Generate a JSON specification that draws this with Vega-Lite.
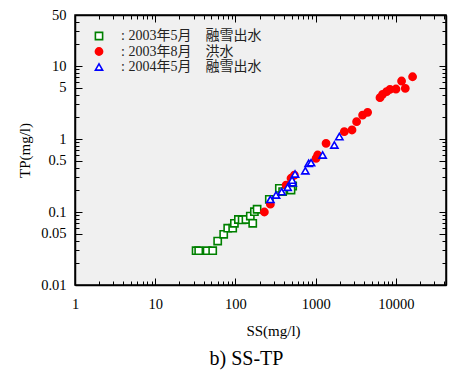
{
  "$schema": "https://vega.github.io/schema/vega-lite/v6.json",
  "width": 371,
  "height": 270,
  "autosize": "none",
  "padding": {"left": 75, "top": 15, "right": 3, "bottom": 85},
  "background": "white",
  "config": {
    "font": "Liberation Serif, Noto Sans CJK JP",
    "view": {"fill": "#f0f0f0", "stroke": "black", "strokeWidth": 1.5},
    "axis": {"domainColor": "black", "domainWidth": 1.5, "ticks": true, "tickColor": "black", "tickOpacity": 1, "tickWidth": 1, "labelColor": "black", "titleColor": "black", "labelFont": "Liberation Serif", "titleFont": "Liberation Serif", "titleFontWeight": "normal", "grid": false, "labelOverlap": false, "labelBound": false, "labelFlush": false}
  },
  "title": {"text": "b) SS-TP", "orient": "bottom", "fontSize": 20, "font": "Liberation Serif", "fontWeight": "normal", "color": "black", "offset": 10, "dx": -14},
  "datasets": {
    "pts": [
      {"series": "2003年5月　融雪出水", "SS": 32.3, "TP": 0.0295},
      {"series": "2003年5月　融雪出水", "SS": 34.8, "TP": 0.0295},
      {"series": "2003年5月　融雪出水", "SS": 44.3, "TP": 0.0295},
      {"series": "2003年5月　融雪出水", "SS": 52, "TP": 0.0295},
      {"series": "2003年5月　融雪出水", "SS": 60, "TP": 0.040},
      {"series": "2003年5月　融雪出水", "SS": 71.3, "TP": 0.0495},
      {"series": "2003年5月　融雪出水", "SS": 80, "TP": 0.060},
      {"series": "2003年5月　融雪出水", "SS": 92.3, "TP": 0.060},
      {"series": "2003年5月　融雪出水", "SS": 96.9, "TP": 0.070},
      {"series": "2003年5月　融雪出水", "SS": 108.7, "TP": 0.079},
      {"series": "2003年5月　融雪出水", "SS": 121, "TP": 0.078},
      {"series": "2003年5月　融雪出水", "SS": 135, "TP": 0.079},
      {"series": "2003年5月　融雪出水", "SS": 153, "TP": 0.088},
      {"series": "2003年5月　融雪出水", "SS": 164, "TP": 0.070},
      {"series": "2003年5月　融雪出水", "SS": 172, "TP": 0.101},
      {"series": "2003年5月　融雪出水", "SS": 186, "TP": 0.109},
      {"series": "2003年5月　融雪出水", "SS": 264, "TP": 0.149},
      {"series": "2003年5月　融雪出水", "SS": 352, "TP": 0.211},
      {"series": "2003年5月　融雪出水", "SS": 387, "TP": 0.190},
      {"series": "2003年5月　融雪出水", "SS": 516, "TP": 0.227},
      {"series": "2003年5月　融雪出水", "SS": 492, "TP": 0.200},
      {"series": "2003年8月　洪水", "SS": 229, "TP": 0.10},
      {"series": "2003年8月　洪水", "SS": 272, "TP": 0.128},
      {"series": "2003年8月　洪水", "SS": 427, "TP": 0.234},
      {"series": "2003年8月　洪水", "SS": 492, "TP": 0.29},
      {"series": "2003年8月　洪水", "SS": 542, "TP": 0.32},
      {"series": "2003年8月　洪水", "SS": 1010, "TP": 0.544},
      {"series": "2003年8月　洪水", "SS": 1057, "TP": 0.604},
      {"series": "2003年8月　洪水", "SS": 1344, "TP": 0.873},
      {"series": "2003年8月　洪水", "SS": 2270, "TP": 1.26},
      {"series": "2003年8月　洪水", "SS": 2831, "TP": 1.33},
      {"series": "2003年8月　洪水", "SS": 3230, "TP": 1.73},
      {"series": "2003年8月　洪水", "SS": 3837, "TP": 2.13},
      {"series": "2003年8月　洪水", "SS": 4430, "TP": 2.32},
      {"series": "2003年8月　洪水", "SS": 6320, "TP": 3.68},
      {"series": "2003年8月　洪水", "SS": 6810, "TP": 4.10},
      {"series": "2003年8月　洪水", "SS": 7640, "TP": 4.45},
      {"series": "2003年8月　洪水", "SS": 8420, "TP": 4.80},
      {"series": "2003年8月　洪水", "SS": 10000, "TP": 4.84},
      {"series": "2003年8月　洪水", "SS": 11740, "TP": 6.23},
      {"series": "2003年8月　洪水", "SS": 13060, "TP": 4.95},
      {"series": "2003年8月　洪水", "SS": 16100, "TP": 7.13},
      {"series": "2004年5月　融雪出水", "SS": 272, "TP": 0.149},
      {"series": "2004年5月　融雪出水", "SS": 320, "TP": 0.171},
      {"series": "2004年5月　融雪出水", "SS": 376, "TP": 0.190},
      {"series": "2004年5月　融雪出水", "SS": 447, "TP": 0.218},
      {"series": "2004年5月　融雪出水", "SS": 516, "TP": 0.252},
      {"series": "2004年5月　融雪出水", "SS": 507, "TP": 0.274},
      {"series": "2004年5月　融雪出水", "SS": 552, "TP": 0.332},
      {"series": "2004年5月　融雪出水", "SS": 742, "TP": 0.368},
      {"series": "2004年5月　融雪出水", "SS": 816, "TP": 0.465},
      {"series": "2004年5月　融雪出水", "SS": 874, "TP": 0.474},
      {"series": "2004年5月　融雪出水", "SS": 1219, "TP": 0.604},
      {"series": "2004年5月　融雪出水", "SS": 1706, "TP": 0.827},
      {"series": "2004年5月　融雪出水", "SS": 1968, "TP": 1.08}
    ]
  },
  "data": {"name": "pts"},
  "layer": [
    {
      "mark": {"type": "point", "strokeWidth": 1.6, "opacity": 1, "size": 52},
      "encoding": {
        "x": {"field": "SS", "type": "quantitative", "scale": {"type": "log", "domain": [1, 42000], "nice": false},
          "axis": {"orient": "bottom", "title": "SS(mg/l)", "titleFontSize": 15, "titlePadding": 10, "titleX": 198, "labelFontSize": 14.5, "labelPadding": 19, "labelOverlap": false,
            "tickSize": {"condition": {"test": "indexof([1,10,100,1000,10000], datum.value) >= 0", "value": -7}, "value": -4},
            "values": [1,2,3,4,5,6,7,8,9,10,20,30,40,50,60,70,80,90,100,200,300,400,500,600,700,800,900,1000,2000,3000,4000,5000,6000,7000,8000,9000,10000,20000,30000,40000],
            "labelExpr": "indexof([1,10,100,1000,10000], datum.value) >= 0 ? format(datum.value, 'd') : ''"}},
        "y": {"field": "TP", "type": "quantitative", "scale": {"type": "log", "domain": [0.01, 50], "nice": false},
          "axis": {"orient": "left", "title": "TP(mg/l)", "titleFontSize": 15, "titlePadding": 8, "labelFontSize": 14.5, "labelPadding": 16, "labelOverlap": false,
            "tickSize": {"condition": {"test": "indexof([0.01,0.05,0.1,0.5,1,5,10,50], datum.value) >= 0", "value": -7}, "value": -4},
            "values": [0.01,0.02,0.03,0.04,0.05,0.06,0.07,0.08,0.09,0.1,0.2,0.3,0.4,0.5,0.6,0.7,0.8,0.9,1,2,3,4,5,6,7,8,9,10,20,30,40,50],
            "labelExpr": "indexof([0.01,0.05,0.1,0.5,1,5,10,50], datum.value) >= 0 ? format(datum.value, '~g') : ''"}},
        "stroke": {"field": "series", "type": "nominal", "scale": {"range": ["#008000", "#ff0000", "#0000ff"]},
          "legend": {"orient": "none", "legendX": 17, "legendY": 14, "title": null, "labelFontSize": 14, "labelColor": "#222222", "labelFont": "Liberation Serif, Noto Sans CJK JP", "labelOffset": 15, "rowPadding": 1.5, "symbolSize": 52, "symbolStrokeWidth": 1.6, "padding": 0, "labelExpr": "': ' + datum.label"}},
        "fill": {"field": "series", "type": "nominal", "scale": {"range": ["white", "#ff0000", "white"]}},
        "shape": {"field": "series", "type": "nominal", "scale": {"range": ["square", "circle", "triangle-up"]}}
      }
    },
    {
      "mark": {"type": "point", "opacity": 0},
      "encoding": {
        "x": {"field": "SS", "type": "quantitative", "scale": {"type": "log", "domain": [1, 42000], "nice": false},
          "axis": {"orient": "top", "title": null, "labels": false,
            "tickSize": {"condition": {"test": "indexof([1,10,100,1000,10000], datum.value) >= 0", "value": -7}, "value": -4},
            "values": [1,2,3,4,5,6,7,8,9,10,20,30,40,50,60,70,80,90,100,200,300,400,500,600,700,800,900,1000,2000,3000,4000,5000,6000,7000,8000,9000,10000,20000,30000,40000]}},
        "y": {"field": "TP", "type": "quantitative", "scale": {"type": "log", "domain": [0.01, 50], "nice": false},
          "axis": {"orient": "right", "title": null, "labels": false,
            "tickSize": {"condition": {"test": "indexof([0.01,0.05,0.1,0.5,1,5,10,50], datum.value) >= 0", "value": -7}, "value": -4},
            "values": [0.01,0.02,0.03,0.04,0.05,0.06,0.07,0.08,0.09,0.1,0.2,0.3,0.4,0.5,0.6,0.7,0.8,0.9,1,2,3,4,5,6,7,8,9,10,20,30,40,50]}}
      }
    }
  ],
  "resolve": {"axis": {"x": "independent", "y": "independent"}}
}
